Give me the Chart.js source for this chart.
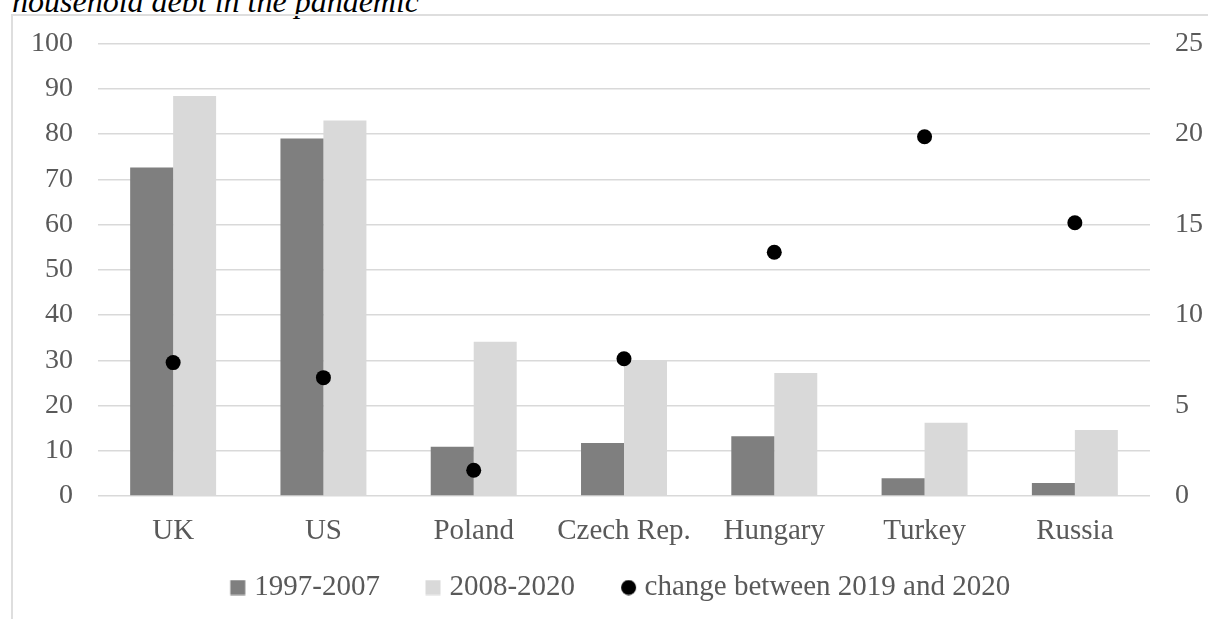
<!DOCTYPE html>
<html>
<head>
<meta charset="utf-8">
<script src="https://cdn.jsdelivr.net/npm/chart.js@4"></script>
<style>
  html, body { margin: 0; padding: 0; background: #fff; overflow: hidden; width: 1208px; height: 619px; }
  #title {
    position: absolute; left: 12px; top: -15px;
    font: italic 32px/32px "Liberation Serif", serif; color: #000; white-space: nowrap;
  }
  #frame {
    position: absolute; left: 11px; top: 14px; width: 1400px; height: 800px;
    border: 2px solid #dedede; box-sizing: border-box;
  }
  #chart { position: absolute; left: 0; top: 0; }
</style>
</head>
<body>
<div id="title">household debt in the pandemic</div>
<div id="frame"></div>
<canvas id="chart" width="1208" height="619"></canvas>
<script>
const categories = ["UK", "US", "Poland", "Czech Rep.", "Hungary", "Turkey", "Russia"];
const debt1997to2007 = [72.6, 79.0, 10.9, 11.7, 13.2, 3.9, 2.9];
const debt2008to2020 = [88.4, 83.0, 34.1, 29.9, 27.2, 16.2, 14.6];
const change2019to2020 = [7.37, 6.54, 1.42, 7.58, 13.47, 19.85, 15.1];
const leftTicks = [0, 10, 20, 30, 40, 50, 60, 70, 80, 90, 100];
const rightTicks = [0, 5, 10, 15, 20, 25];

const textColor = "#595959";
const serif = "'Liberation Serif', 'Times New Roman', serif";

// legend markers: a 15px square or dot sitting at the right end of a wider
// transparent image, so items get Excel-like spacing with a tight text gap
const legendPad = 17;
const legendBoxW = 38;
function marker(kind, color) {
    const c = document.createElement("canvas");
    c.width = 54; c.height = 16;
    const g = c.getContext("2d");
    g.fillStyle = color;
    if (kind === "circle") {
        g.beginPath();
        g.arc(44.5, 8, 7.5, 0, Math.PI * 2);
        g.fill();
    } else {
        g.fillRect(36.5, 0.5, 15, 15);
    }
    return c;
}
const markers = [marker("rect", "#7f7f7f"), marker("rect", "#d9d9d9"), marker("circle", "#000")];

new Chart(document.getElementById("chart"), {
    type: "bar",
    data: {
        labels: categories,
        datasets: [
            { label: "1997-2007", data: debt1997to2007, backgroundColor: "#7f7f7f", yAxisID: "y", order: 2 },
            { label: "2008-2020", data: debt2008to2020, backgroundColor: "#d9d9d9", yAxisID: "y", order: 2 },
            {
                type: "line",
                label: "change between 2019 and 2020",
                data: change2019to2020,
                showLine: false,
                pointRadius: 7.5,
                pointBorderWidth: 0,
                pointBackgroundColor: "#000",
                backgroundColor: "#000",
                yAxisID: "y1",
                order: 1,
            },
        ],
    },
    options: {
        responsive: false,
        animation: false,
        categoryPercentage: 0.572,
        barPercentage: 1.0,
        layout: { padding: { top: 43.5, left: 4, right: 0, bottom: 7 } },
        plugins: {
            tooltip: { enabled: false },
            legend: {
                position: "bottom",
                labels: {
                    usePointStyle: true,
                    pointStyleWidth: legendBoxW,
                    padding: legendPad,
                    color: textColor,
                    font: { family: serif, size: 29 },
                    generateLabels: (chart) =>
                        chart.data.datasets.map((ds, i) => ({
                            text: ds.label,
                            fillStyle: ds.backgroundColor,
                            strokeStyle: ds.backgroundColor,
                            lineWidth: 0,
                            pointStyle: markers[i],
                            fontColor: textColor,
                            hidden: false,
                            datasetIndex: i,
                        })),
                },
            },
        },
        scales: {
            x: {
                grid: { display: false, drawTicks: false },
                border: { display: false },
                ticks: { color: textColor, font: { family: serif, size: 29 }, padding: 18 },
                afterFit: (s) => { s.height = 60; },
            },
            y: {
                position: "left",
                min: 0,
                max: 100,
                afterBuildTicks: (s) => { s.ticks = leftTicks.map((v) => ({ value: v })); },
                grid: { color: "#d9d9d9", lineWidth: 1.5, drawTicks: false },
                border: { display: false },
                ticks: { color: textColor, font: { family: serif, size: 28 }, padding: 25 },
                afterFit: (s) => { s.width = 94; },
            },
            y1: {
                position: "right",
                min: 0,
                max: 25,
                afterBuildTicks: (s) => { s.ticks = rightTicks.map((v) => ({ value: v })); },
                grid: { display: false, drawTicks: false },
                border: { display: false },
                ticks: { color: textColor, font: { family: serif, size: 28 }, padding: 25 },
                afterFit: (s) => { s.width = 58; },
            },
        },
    },
});
</script>
</body>
</html>
